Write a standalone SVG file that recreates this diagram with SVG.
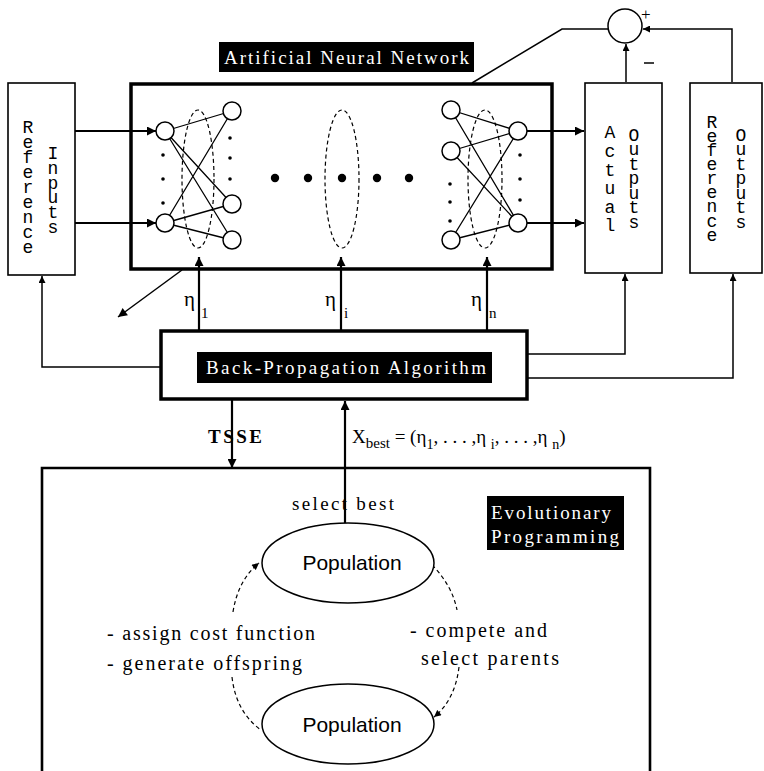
<svg xmlns="http://www.w3.org/2000/svg" width="764" height="771" viewBox="0 0 764 771">
<defs>
<style>
.box{fill:#fff;stroke:#000;stroke-width:1.6}
.thick{fill:#fff;stroke:#000;stroke-width:3.5}
.ln{fill:none;stroke:#000;stroke-width:1.5}
.lnb{fill:none;stroke:#000;stroke-width:2.2}
.nn{fill:none;stroke:#000;stroke-width:1.3}
.dash{fill:none;stroke:#000;stroke-width:1.2;stroke-dasharray:4 3}
.node{fill:#fff;stroke:#000;stroke-width:1.5}
.dot{fill:#000}
.mono{font-family:"Liberation Mono","DejaVu Sans Mono",monospace;font-size:18px;fill:#000;text-anchor:middle}
.ser{font-family:"Liberation Serif","DejaVu Serif",serif;fill:#000}
.wt{font-family:"Liberation Serif","DejaVu Serif",serif;fill:#fff;font-size:19px}
.sans{font-family:"Liberation Sans",Arial,sans-serif;font-size:21px;fill:#000;text-anchor:middle}
</style>
<marker id="ah" viewBox="0 0 10 10" refX="10" refY="5" markerWidth="11" markerHeight="9" markerUnits="userSpaceOnUse" orient="auto"><path d="M0,0L10,5L0,10z" fill="#000"/></marker>
<marker id="as" viewBox="0 0 10 10" refX="10" refY="5" markerWidth="8" markerHeight="7" markerUnits="userSpaceOnUse" orient="auto"><path d="M0,0L10,5L0,10z" fill="#000"/></marker>
</defs>
<rect width="764" height="771" fill="#fff"/>

<g id="ann">
<rect class="thick" x="131" y="84" width="421" height="185"/>
<rect x="219" y="42" width="255" height="30" fill="#000"/>
<text class="wt" x="224" y="64" textLength="245" lengthAdjust="spacing">Artificial Neural Network</text>
<ellipse class="dash" cx="198" cy="179" rx="16" ry="69"/>
<ellipse class="dash" cx="342" cy="179" rx="17" ry="69"/>
<ellipse class="dash" cx="485" cy="179" rx="17" ry="69"/>
</g>

<g id="connectors">
<path class="nn" d="M165,131L232,111M165,131L232,204M165,131L232,240M165,223L232,111M165,223L232,204M165,223L232,240"/>
<path class="nn" d="M451,110L518,131M451,110L518,223M451,151L518,131M451,151L518,223M451,240L518,131M451,240L518,223"/>
<line class="lnb" x1="75" y1="131" x2="156" y2="131" marker-end="url(#ah)"/>
<line class="lnb" x1="75" y1="223" x2="156" y2="223" marker-end="url(#ah)"/>
<line class="lnb" x1="527" y1="131" x2="584" y2="131" marker-end="url(#ah)"/>
<line class="lnb" x1="527" y1="223" x2="584" y2="223" marker-end="url(#ah)"/>
<line class="lnb" x1="199" y1="330" x2="199" y2="257" marker-end="url(#ah)"/>
<line class="lnb" x1="341" y1="330" x2="341" y2="257" marker-end="url(#ah)"/>
<line class="lnb" x1="487" y1="330" x2="487" y2="257" marker-end="url(#ah)"/>
<line class="ln" x1="182" y1="270" x2="118" y2="317" marker-end="url(#ah)"/>
<polyline class="ln" points="161,367 42,367 42,276" marker-end="url(#as)"/>
<polyline class="ln" points="528,354 625,354 625,274" marker-end="url(#as)"/>
<polyline class="ln" points="528,378 733,378 733,274" marker-end="url(#as)"/>
<polyline class="ln" points="472,83 562,29 608,29"/>
<line class="ln" x1="626" y1="82" x2="626" y2="44" marker-end="url(#as)"/>
<polyline class="ln" points="732,82 732,29 643,29" marker-end="url(#as)"/>
<line class="lnb" x1="232" y1="400" x2="232" y2="468" marker-end="url(#ah)"/>
<line class="lnb" x1="345" y1="523" x2="345" y2="401" marker-end="url(#ah)"/>
<path class="dash" d="M233,612Q238,580 259,563" marker-end="url(#as)"/>
<path class="dash" d="M232,677Q236,712 261,730"/>
<path class="dash" d="M432,565Q452,585 457,610"/>
<path class="dash" d="M459,667Q455,700 434,717" marker-end="url(#as)"/>
</g>

<g id="neurons">
<circle class="node" cx="165" cy="131" r="9"/>
<circle class="node" cx="165" cy="223" r="9"/>
<circle class="node" cx="232" cy="111" r="9"/>
<circle class="node" cx="232" cy="204" r="9"/>
<circle class="node" cx="232" cy="240" r="9"/>
<circle class="dot" cx="163" cy="155" r="1.8"/>
<circle class="dot" cx="163" cy="179" r="1.8"/>
<circle class="dot" cx="163" cy="203" r="1.8"/>
<circle class="dot" cx="230" cy="138" r="1.8"/>
<circle class="dot" cx="230" cy="158" r="1.8"/>
<circle class="dot" cx="230" cy="179" r="1.8"/>
<circle class="node" cx="451" cy="110" r="9"/>
<circle class="node" cx="451" cy="151" r="9"/>
<circle class="node" cx="451" cy="240" r="9"/>
<circle class="node" cx="518" cy="131" r="9"/>
<circle class="node" cx="518" cy="223" r="9"/>
<circle class="dot" cx="450" cy="184" r="1.8"/>
<circle class="dot" cx="450" cy="202" r="1.8"/>
<circle class="dot" cx="450" cy="221" r="1.8"/>
<circle class="dot" cx="520" cy="155" r="1.8"/>
<circle class="dot" cx="520" cy="179" r="1.8"/>
<circle class="dot" cx="520" cy="200" r="1.8"/>
<circle class="dot" cx="275" cy="178" r="4.2"/>
<circle class="dot" cx="308" cy="178" r="4.2"/>
<circle class="dot" cx="342" cy="178" r="4.2"/>
<circle class="dot" cx="377" cy="178" r="4.2"/>
<circle class="dot" cx="409" cy="178" r="4.2"/>
</g>

<g id="ref-inputs">
<rect class="box" x="8" y="83" width="67" height="192"/>
<text class="mono"><tspan x="28" y="133">R</tspan><tspan x="28" y="148">e</tspan><tspan x="28" y="163">f</tspan><tspan x="28" y="178">e</tspan><tspan x="28" y="193">r</tspan><tspan x="28" y="208">e</tspan><tspan x="28" y="223">n</tspan><tspan x="28" y="238">c</tspan><tspan x="28" y="253">e</tspan></text>
<text class="mono"><tspan x="53" y="159">I</tspan><tspan x="53" y="174">n</tspan><tspan x="53" y="189">p</tspan><tspan x="53" y="203">u</tspan><tspan x="53" y="218">t</tspan><tspan x="53" y="233">s</tspan></text>
</g>

<g id="actual-outputs">
<rect class="box" x="585" y="83" width="77" height="190"/>
<text class="mono"><tspan x="610" y="138">A</tspan><tspan x="610" y="157">c</tspan><tspan x="610" y="176">t</tspan><tspan x="610" y="194">u</tspan><tspan x="610" y="213">a</tspan><tspan x="610" y="231">l</tspan></text>
<text class="mono"><tspan x="634" y="141">O</tspan><tspan x="634" y="155">u</tspan><tspan x="634" y="170">t</tspan><tspan x="634" y="184">p</tspan><tspan x="634" y="199">u</tspan><tspan x="634" y="213">t</tspan><tspan x="634" y="228">s</tspan></text>
</g>

<g id="ref-outputs">
<rect class="box" x="690" y="83" width="72" height="190"/>
<text class="mono"><tspan x="712" y="128">R</tspan><tspan x="712" y="142">e</tspan><tspan x="712" y="156">f</tspan><tspan x="712" y="170">e</tspan><tspan x="712" y="184">r</tspan><tspan x="712" y="198">e</tspan><tspan x="712" y="212">n</tspan><tspan x="712" y="227">c</tspan><tspan x="712" y="241">e</tspan></text>
<text class="mono"><tspan x="741" y="141">O</tspan><tspan x="741" y="155">u</tspan><tspan x="741" y="170">t</tspan><tspan x="741" y="184">p</tspan><tspan x="741" y="199">u</tspan><tspan x="741" y="213">t</tspan><tspan x="741" y="228">s</tspan></text>
</g>

<g id="sum">
<circle class="node" cx="625" cy="26" r="17"/>
<text class="ser" x="641" y="20" font-size="17">+</text>
<line x1="644" y1="63" x2="654" y2="63" stroke="#000" stroke-width="1.5"/>
</g>

<g id="eta-labels">
<text class="ser" font-size="21" x="184" y="306">η</text><text class="ser" font-size="15" x="201" y="318">1</text>
<text class="ser" font-size="21" x="325" y="306">η</text><text class="ser" font-size="15" x="344" y="318">i</text>
<text class="ser" font-size="21" x="471" y="306">η</text><text class="ser" font-size="15" x="489" y="318">n</text>
</g>

<g id="bp">
<rect class="thick" x="161" y="331" width="366" height="68"/>
<rect x="197" y="352" width="295" height="31" fill="#000"/>
<text class="wt" x="206" y="374" font-size="20" textLength="280" lengthAdjust="spacing">Back-Propagation Algorithm</text>
</g>

<g id="io-labels">
<text class="ser" font-size="19" font-weight="bold" x="208" y="443" textLength="54" lengthAdjust="spacing">TSSE</text>
<text class="ser" font-size="19" x="352" y="443">X<tspan font-size="15" dy="5">best</tspan><tspan dy="-5"> = (η</tspan><tspan font-size="14" dy="6">1</tspan><tspan dy="-6">, . . . ,η </tspan><tspan font-size="14" dy="6">i</tspan><tspan dy="-6">, . . . ,η </tspan><tspan font-size="14" dy="6">n</tspan><tspan dy="-6">)</tspan></text>
</g>

<g id="ep">
<path d="M42,780V468H650V780" fill="none" stroke="#000" stroke-width="2.6"/>
<rect x="487" y="496" width="137" height="54" fill="#000"/>
<text class="wt" x="491" y="519" font-size="19" textLength="120" lengthAdjust="spacing">Evolutionary</text>
<text class="wt" x="491" y="543" font-size="19" textLength="128" lengthAdjust="spacing">Programming</text>
<text class="ser" font-size="19" x="292" y="510" textLength="102" lengthAdjust="spacing">select best</text>
<text class="ser" font-size="20" x="107" y="640" textLength="208" lengthAdjust="spacing">- assign cost function</text>
<text class="ser" font-size="20" x="107" y="670" textLength="195" lengthAdjust="spacing">- generate offspring</text>
<text class="ser" font-size="20" x="410" y="637" textLength="137" lengthAdjust="spacing">- compete and</text>
<text class="ser" font-size="20" x="421" y="665" textLength="138" lengthAdjust="spacing">select parents</text>
</g>

<g id="pop-top">
<ellipse class="node" cx="348" cy="563" rx="86" ry="40"/>
<text class="sans" x="352" y="570">Population</text>
</g>
<g id="pop-bottom">
<ellipse class="node" cx="348" cy="724" rx="86" ry="40"/>
<text class="sans" x="352" y="732">Population</text>
</g>
</svg>
